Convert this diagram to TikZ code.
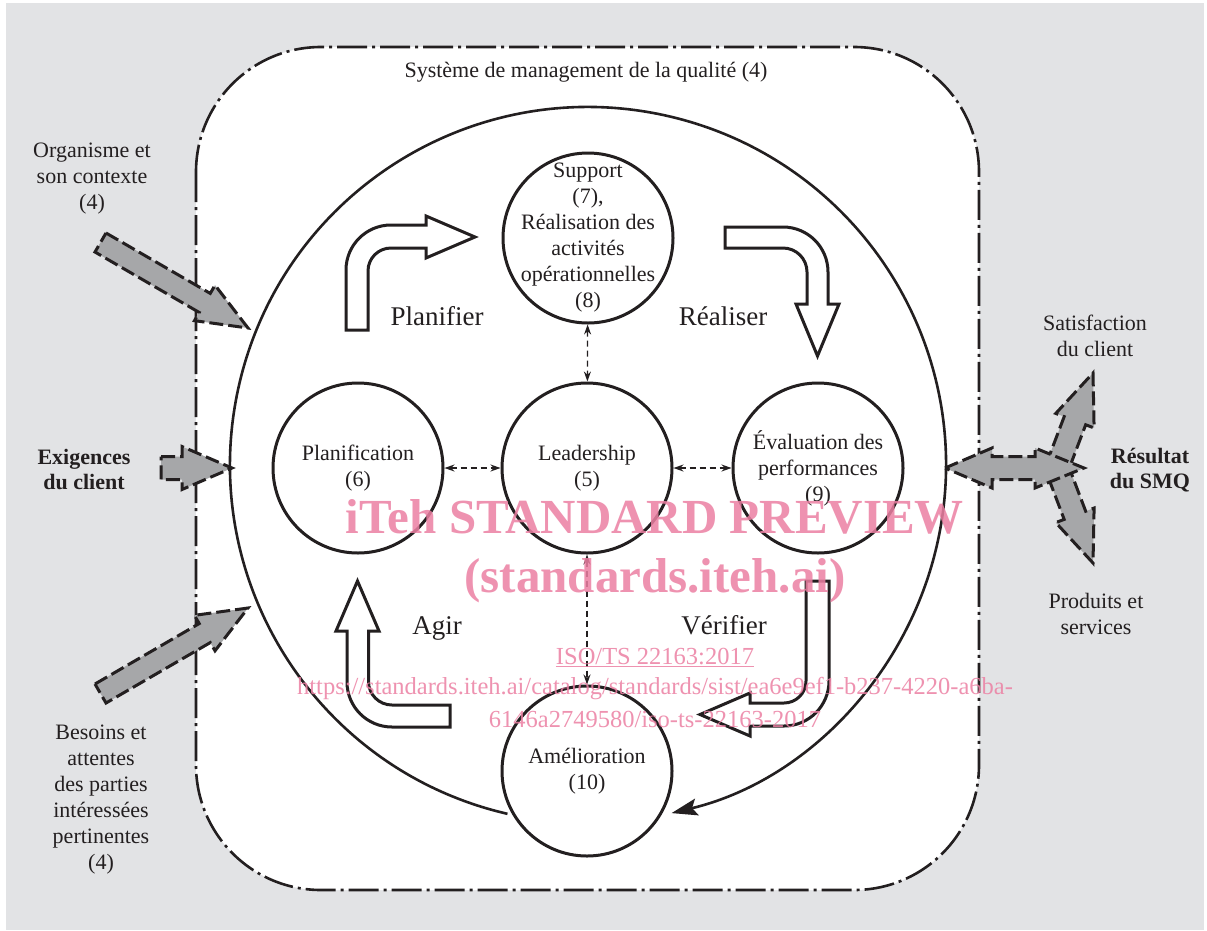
\documentclass[tikz,border=0pt]{standalone}
\usepackage{fontspec}
\setmainfont{Liberation Serif}
\usetikzlibrary{arrows.meta,calc}
\definecolor{bg}{RGB}{226,227,229}
\definecolor{arrgray}{RGB}{166,167,169}
\definecolor{ink}{RGB}{35,31,32}
\definecolor{wm}{RGB}{236,128,163}
% gray block arrow: #1 tail, #2 tip, #3 shaft half width, #4 head half width, #5 head length
\newcommand\grayblock[5]{%
  \path[grayarr]
    ($(#1)!#3pt!90:(#2)$) --
    ($(#2)!#5pt!(#1)!#3pt!-90:(#1)$) --
    ($(#2)!#5pt!(#1)!#4pt!-90:(#1)$) --
    (#2) --
    ($(#2)!#5pt!(#1)!#4pt!90:(#1)$) --
    ($(#2)!#5pt!(#1)!#3pt!90:(#1)$) --
    ($(#1)!#3pt!-90:(#2)$) -- cycle;}
\begin{document}
\begin{tikzpicture}[x=1pt,y=-1pt,
  bodytxt/.style={font=\fontsize{22}{26}\selectfont, text=ink, align=center, inner sep=0pt},
  boldtxt/.style={font=\fontsize{22}{25}\selectfont\bfseries, text=ink, align=center, inner sep=0pt},
  bigtxt/.style={font=\fontsize{27}{32}\selectfont, text=ink, inner sep=0pt, anchor=base},
  circ/.style={circle, draw=ink, line width=3pt, fill=white, minimum size=170pt, inner sep=0pt},
  qmsframe/.style={draw=ink, fill=white, line width=2.6pt, rounded corners=125pt,
    dash pattern=on 30pt off 5pt on 3pt off 5pt},
  grayarr/.style={draw=ink, fill=arrgray, line width=3pt, dash pattern=on 14pt off 5pt, line join=miter},
  whitearr/.style={draw=ink, fill=white, line width=3pt, line join=miter},
  dlink/.style={draw=ink, line width=1.3pt, dash pattern=on 6pt off 4pt,
    {Stealth[length=10pt,width=7pt]}-{Stealth[length=10pt,width=7pt]}},
  cyclearc/.style={draw=ink, line width=2.6pt, -{Stealth[length=26pt,width=17pt,inset=5pt]}},
  wmbig/.style={font=\fontsize{49}{55}\selectfont\bfseries, text=wm, text opacity=0.85, inner sep=0pt, anchor=base},
  wmsmall/.style={font=\fontsize{24.5}{28}\selectfont, text=wm, text opacity=0.85, inner sep=0pt, anchor=base}]
\useasboundingbox (0,0) rectangle (1207,930);
\fill[white] (0,0) rectangle (1207,930);
\fill[bg] (6,3) rectangle (1204,930);

% quality management system frame
\path[qmsframe] (196,47) rectangle (979,890);
\node[bodytxt] (title) at (586,72.5) {Système de management de la qualité (4)};

% big cycle
\coordinate (bc) at (588,465);
\draw[cyclearc] (bc) ++(103:358) arc[start angle=103, end angle=436.5, radius=358];

% circles
\node[circ, label={[bodytxt]center:Support\\(7),\\Réalisation des\\activités\\opérationnelles\\(8)}] (sup) at (588,238) {};
\node[circ, label={[bodytxt]center:Planification\\(6)}] (pla) at (358,468) {};
\node[circ, label={[bodytxt]center:Leadership\\(5)}] (lea) at (587,468) {};
\node[circ, label={[bodytxt]center:Évaluation des\\performances\\(9)}] (eva) at (818,468) {};
\node[circ, label={[bodytxt]center:Amélioration\\(10)}] (ame) at (587,771) {};

% dashed links
\draw[dlink] (pla) -- (lea);
\draw[dlink] (lea) -- (eva);
\draw[dlink] (sup) -- (lea);
\draw[dlink] (lea) -- (ame);

% white bent arrows (PDCA)
\path[whitearr] (346,330) -- (346,270) arc[start angle=180, end angle=270, radius=45]
  -- (426,225) -- (426,216) -- (475,237) -- (426,258) -- (426,248) -- (391,248)
  arc[start angle=270, end angle=180, radius=23] -- (368,330) -- cycle;
\path[whitearr] (725,227) -- (783,227) arc[start angle=270, end angle=360, radius=45]
  -- (828,304) -- (839,304) -- (817.5,356) -- (796,304) -- (807,304) -- (807,272)
  arc[start angle=0, end angle=-90, radius=24] -- (725,248) -- cycle;
\path[whitearr] (806,581) -- (829,581) -- (829,681) arc[start angle=0, end angle=90, radius=45]
  -- (750,726) -- (750,736) -- (700,714.5) -- (750,693) -- (750,703) -- (784,703)
  arc[start angle=90, end angle=0, radius=22] -- cycle;
\path[whitearr] (450,705) -- (392,705) arc[start angle=90, end angle=180, radius=23.5]
  -- (368.5,631) -- (379,631) -- (357.5,581) -- (336,631) -- (347,631) -- (347,682)
  arc[start angle=180, end angle=90, radius=45] -- (450,727) -- cycle;

\node[bigtxt] (plan) at (437,325) {Planifier};
\node[bigtxt] (real) at (723,325) {Réaliser};
\node[bigtxt] (agir) at (437,634) {Agir};
\node[bigtxt] (veri) at (724,634) {Vérifier};

% gray input arrows
\coordinate (orgT) at (100.5,242.5);
\coordinate (orgH) at (248,328);
\coordinate (exiT) at (161,468);
\coordinate (exiH) at (232,468);
\coordinate (besT) at (100.5,693.5);
\coordinate (besH) at (248,608);
\grayblock{orgT}{orgH}{11}{20.5}{50}
\grayblock{exiT}{exiH}{11.5}{21.5}{50}
\grayblock{besT}{besH}{11}{20.5}{50}

% output arrows
\coordinate (resT) at (1057,468);
\coordinate (satH) at (1093,373);
\coordinate (proH) at (1093,563);
\coordinate (rl) at (945,468);
\coordinate (rr) at (1084,468);
\grayblock{resT}{satH}{11.5}{20.5}{51}
\grayblock{resT}{proH}{11.5}{20.5}{51}
\path[grayarr] (rl) -- ($(rl)+(47,-20)$) -- ($(rl)+(47,-11.5)$) -- ($(rr)+(-49,-11.5)$)
  -- ($(rr)+(-49,-20)$) -- (rr) -- ($(rr)+(-49,20)$) -- ($(rr)+(-49,11.5)$)
  -- ($(rl)+(47,11.5)$) -- ($(rl)+(47,20)$) -- cycle;

% outside labels
\node[bodytxt] (org) at (92,179) {Organisme et\\son contexte\\(4)};
\node[boldtxt] (exi) at (84,469) {Exigences\\du client};
\node[bodytxt] (bes) at (101,800) {Besoins et\\attentes\\des parties\\intéressées\\pertinentes\\(4)};
\node[bodytxt] (sat) at (1095,336) {Satisfaction\\du client};
\node[boldtxt] (res) at (1150,470.5) {Résultat\\du SMQ};
\node[bodytxt] (pro) at (1096,614) {Produits et\\services};

% watermark
\node[wmbig] (wm1) at (655,533) {iTeh STANDARD PREVIEW};
\node[wmbig] (wm2) at (655,592) {(standards.iteh.ai)};
\node[wmsmall] (wm3) at (655,664) {\underline{ISO/TS 22163:2017}};
\node[wmsmall] (wm4) at (655,694) {https://standards.iteh.ai/catalog/standards/sist/ea6e9ef1-b237-4220-a6ba-};
\node[wmsmall] (wm5) at (655,727) {6146a2749580/iso-ts-22163-2017};
\end{tikzpicture}
\end{document}
